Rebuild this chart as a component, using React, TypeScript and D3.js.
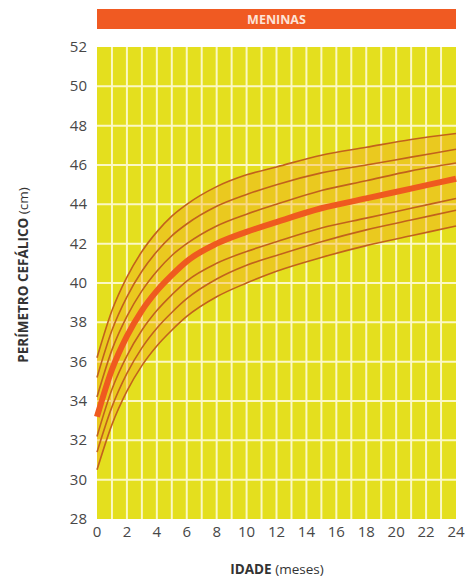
import React from "react";
import * as d3 from "d3";

const months = [0, 1, 2, 3, 4, 5, 6, 8, 10, 12, 15, 18, 21, 24];
const plus3 = [36.2, 38.6, 40.3, 41.6, 42.6, 43.4, 44.0, 44.9, 45.5, 45.9, 46.5, 46.9, 47.3, 47.6];
const plus2 = [35.2, 37.6, 39.3, 40.6, 41.6, 42.4, 43.0, 43.9, 44.5, 45.0, 45.6, 46.0, 46.4, 46.8];
const plus1 = [34.2, 36.6, 38.3, 39.6, 40.6, 41.4, 42.0, 42.9, 43.5, 44.0, 44.7, 45.2, 45.7, 46.1];
const median = [33.2, 35.6, 37.3, 38.6, 39.6, 40.4, 41.1, 42.0, 42.6, 43.1, 43.8, 44.3, 44.8, 45.3];
const minus1 = [32.2, 34.6, 36.3, 37.6, 38.6, 39.4, 40.1, 41.0, 41.6, 42.1, 42.8, 43.3, 43.8, 44.3];
const minus2 = [31.4, 33.7, 35.4, 36.7, 37.7, 38.5, 39.2, 40.2, 40.9, 41.4, 42.1, 42.7, 43.2, 43.7];
const minus3 = [30.5, 32.8, 34.5, 35.8, 36.8, 37.6, 38.3, 39.3, 40.0, 40.6, 41.3, 41.9, 42.4, 42.9];

const thinSeries = [plus3, plus2, plus1, minus1, minus2, minus3];
const yTicks = [28, 30, 32, 34, 36, 38, 40, 42, 44, 46, 48, 50, 52];
const xTicks = [0, 2, 4, 6, 8, 10, 12, 14, 16, 18, 20, 22, 24];
const title = "MENINAS";
const xTitleBold = "IDADE";
const xTitleRest = " (meses)";
const yTitleBold = "PERÍMETRO CEFÁLICO";
const yTitleRest = " (cm)";

const W = 466;
const H = 583;
const left = 97;
const right = 456;
const top = 47;
const bottom = 519;

export default function App() {
  const x = d3.scaleLinear().domain([0, 24]).range([left, right]);
  const y = d3.scaleLinear().domain([28, 52]).range([bottom, top]);
  const line = d3
    .line<number>()
    .x((_, i) => x(months[i]))
    .y((d) => y(d))
    .curve(d3.curveMonotoneX);
  const area = d3
    .area<number>()
    .x((_, i) => x(months[i]))
    .y0((_, i) => y(minus3[i]))
    .y1((d) => y(d))
    .curve(d3.curveMonotoneX);
  const monthLines = d3.range(1, 24);
  const hLines = yTicks.filter((t) => t > 28 && t < 52);
  const font = "'Open Sans', 'Noto Sans', sans-serif";
  return (
    <svg
      width={W}
      height={H}
      style={{ position: "absolute", left: 0, top: 0, background: "#fff" }}
      fontFamily={font}
    >
      <rect x={left} y={9} width={right - left} height={20} fill="#f05a22" />
      <text
        x={(left + right) / 2}
        y={24}
        textAnchor="middle"
        fontSize={12.5}
        fontWeight={700}
        fill="#fde3d6"
      >
        {title}
      </text>
      <rect x={left} y={top} width={right - left} height={bottom - top} fill="#e4df1e" />
      {monthLines.map((m) => (
        <line key={"v" + m} x1={x(m)} x2={x(m)} y1={top} y2={bottom} stroke="#fbf8c4" strokeWidth={2} />
      ))}
      {hLines.map((t) => (
        <line key={"h" + t} x1={left} x2={right} y1={y(t)} y2={y(t)} stroke="#fbf8c4" strokeWidth={2} />
      ))}
      <path d={area(plus3) || ""} fill="#f5a623" opacity={0.38} />
      {thinSeries.map((s, i) => (
        <path key={"s" + i} d={line(s) || ""} fill="none" stroke="#c2621c" strokeWidth={1.6} />
      ))}
      <path d={line(median) || ""} fill="none" stroke="#ef5a1f" strokeWidth={6} />
      {yTicks.map((t) => (
        <text key={"yt" + t} x={87} y={y(t) + 5} textAnchor="end" fontSize={15} fill="#474747">
          {t}
        </text>
      ))}
      {xTicks.map((t) => (
        <text key={"xt" + t} x={x(t)} y={537} textAnchor="middle" fontSize={15} fill="#474747">
          {t}
        </text>
      ))}
      <text x={277} y={574} textAnchor="middle" fontSize={13.5} fill="#333">
        <tspan fontWeight={700}>{xTitleBold}</tspan>
        <tspan>{xTitleRest}</tspan>
      </text>
      <text
        transform={`translate(28, 275) rotate(-90)`}
        textAnchor="middle"
        fontSize={13.5}
        fill="#333"
      >
        <tspan fontWeight={700}>{yTitleBold}</tspan>
        <tspan>{yTitleRest}</tspan>
      </text>
    </svg>
  );
}
